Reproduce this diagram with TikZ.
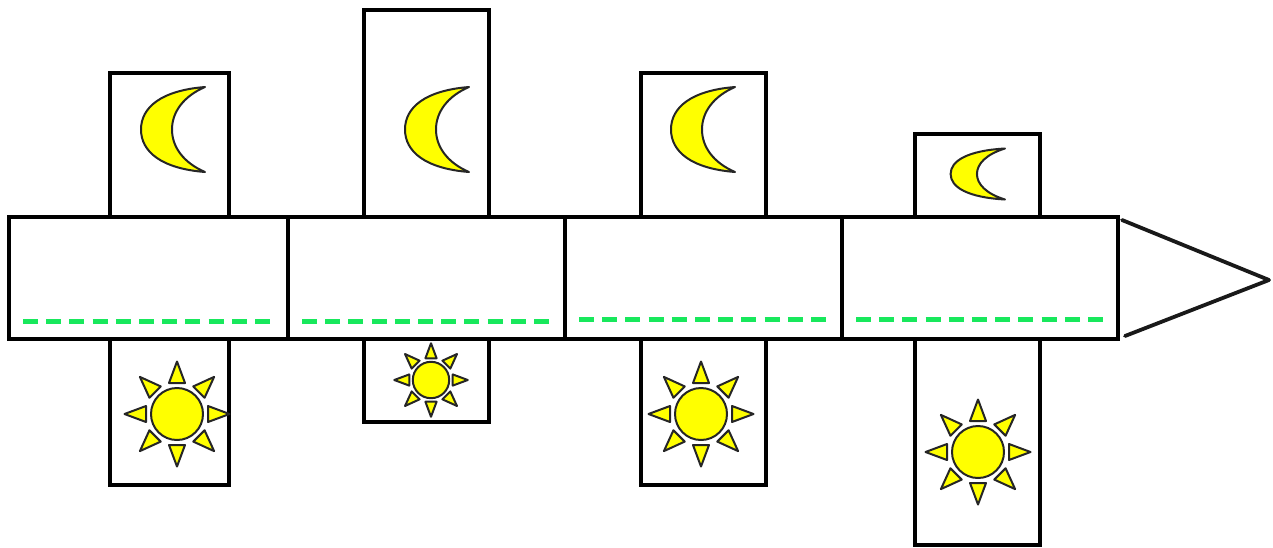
\documentclass[tikz,border=0pt]{standalone}
\definecolor{dashgreen}{RGB}{24,232,92}
\definecolor{sunyellow}{RGB}{255,255,0}
\tikzset{
  x=1pt,y=-1pt,
  boxline/.style={draw=black,line width=4pt,line join=miter},
  tipline/.style={draw=black!90,line width=3.8pt,line cap=round,line join=round},
  levelline/.style={draw=dashgreen,line width=5pt,dash pattern=on 15pt off 8.2pt},
  glyph/.style={draw=black!85,fill=sunyellow,line width=2pt,line join=round},
  moonpic/.pic={
    \path[glyph] (0,-42.5) .. controls (-44,-39) and (-64,-22) .. (-64,0)
      .. controls (-64,22) and (-44,39) .. (0,42.5)
      .. controls (-22,33) and (-33,17) .. (-33,0)
      .. controls (-33,-17) and (-22,-33) .. (0,-42.5) -- cycle;
  },
  sunpic/.pic={
    \path[glyph] (0,0) circle (26);
    \foreach \a in {0,45,...,315}{
      \path[glyph,rotate=\a] (31,-8) -- (52.5,0) -- (31,8) -- cycle;
    }
  }
}
\begin{document}
\begin{tikzpicture}
\useasboundingbox (0,0) rectangle (1273,547);
% upper boxes
\draw[boxline] (110,217) |- (229,73) -- (229,217);
\draw[boxline] (364,217) |- (489,10) -- (489,217);
\draw[boxline] (641,217) |- (766,73) -- (766,217);
\draw[boxline] (915,217) |- (1040,134) -- (1040,217);
% lower boxes
\draw[boxline] (110,339) |- (229,485) -- (229,339);
\draw[boxline] (364,339) |- (489,422) -- (489,339);
\draw[boxline] (641,339) |- (766,485) -- (766,339);
\draw[boxline] (915,339) |- (1040,545) -- (1040,339);
% main strip
\draw[boxline] (9,217) rectangle (1118,339);
\draw[boxline] (288,217) -- (288,339);
\draw[boxline] (565,217) -- (565,339);
\draw[boxline] (842,217) -- (842,339);
% head
\draw[tipline] (1122,220) -- (1269,280) -- (1125,336);
% level dashes
\draw[levelline] (23,321) -- (272,321);
\draw[levelline] (302,321) -- (551,321);
\draw[levelline] (579,319) -- (828,319);
\draw[levelline] (856,319) -- (1105,319);
% moons
\pic at (205,129.5) {moonpic};
\pic at (469,129.5) {moonpic};
\pic at (735,129.5) {moonpic};
\pic[xscale=0.85,yscale=0.6] at (1005,174) {moonpic};
% suns
\pic at (177,414) {sunpic};
\pic[scale=0.7] at (431,380) {sunpic};
\pic at (701,414) {sunpic};
\pic at (978,452) {sunpic};
\end{tikzpicture}
\end{document}
